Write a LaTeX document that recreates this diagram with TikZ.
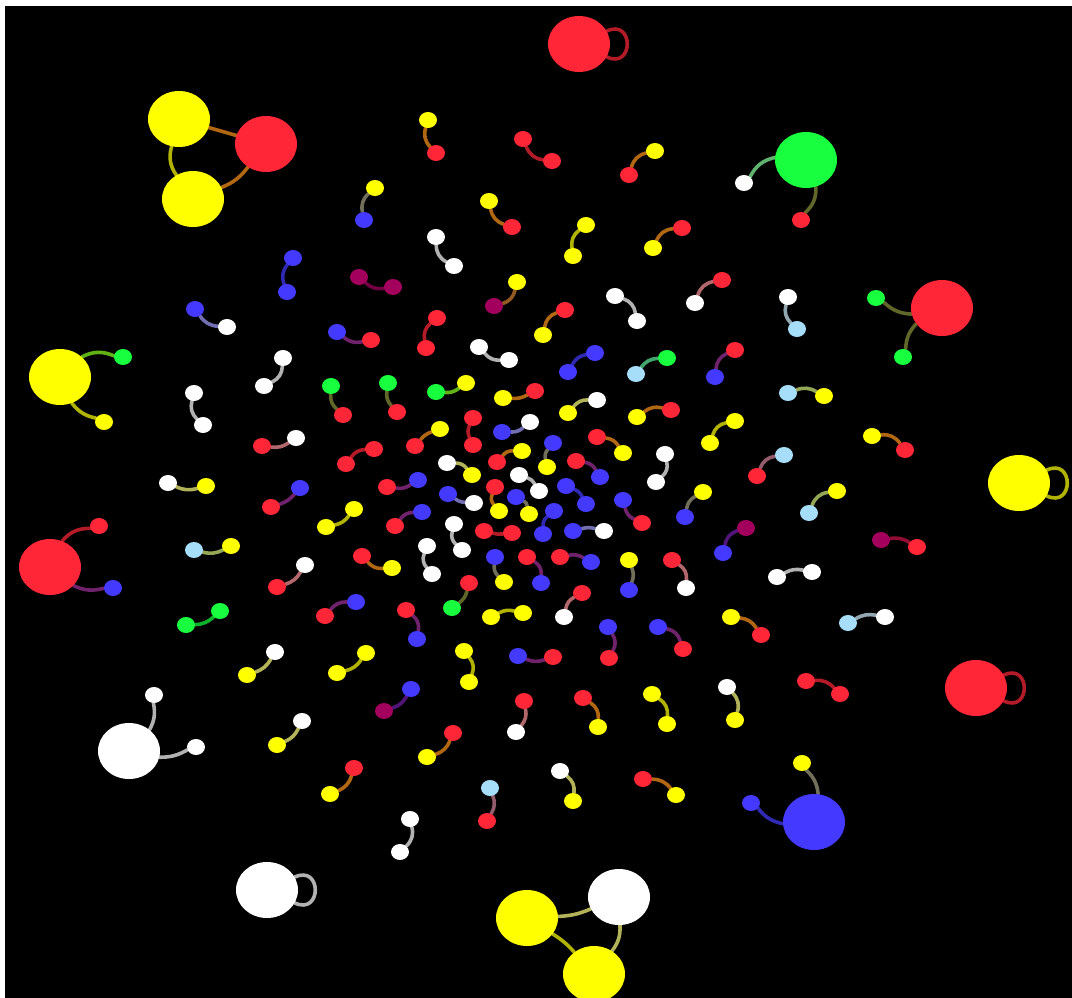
\documentclass[tikz,border=0pt]{standalone}
\usetikzlibrary{shapes.geometric}
\pgfdeclarelayer{bg}
\pgfsetlayers{bg,main}
\definecolor{cR}{RGB}{255,38,55}
\definecolor{cY}{RGB}{255,255,0}
\definecolor{cB}{RGB}{68,58,255}
\definecolor{cG}{RGB}{23,255,62}
\definecolor{cW}{RGB}{255,255,255}
\definecolor{cL}{RGB}{166,222,250}
\definecolor{cM}{RGB}{163,0,94}
\tikzset{
  sm/.style={ellipse,inner sep=0pt,minimum width=18pt,minimum height=16pt},
  big/.style={ellipse,inner sep=0pt,minimum width=62pt,minimum height=56pt},
  ed/.style={line width=3.6pt,line cap=round},
  selfloop/.style={ed,out=25,in=-25,looseness=3}
}
\newcommand\PP[6]{%
  \node[sm,fill=c#2] (#1a) at (#3) {};
  \node[sm,fill=c#4] (#1b) at (#5) {};
  \begin{pgfonlayer}{bg}
  \draw[ed,draw={c#2!50!c#4!70!black}] (#1a) to[bend left=#6] (#1b);
  \end{pgfonlayer}}
\newcommand\EE[4]{%
  \begin{pgfonlayer}{bg}
  \draw[ed,draw={c#2!50!c#3!70!black}] #1 to[bend left=#4] #1;
  \end{pgfonlayer}}
\begin{document}
\begin{tikzpicture}[x=1pt,y=-1pt]
\useasboundingbox (0,0) rectangle (1072,998);
\begin{pgfonlayer}{bg}
\fill[white] (0,0) rectangle (1072,998);
\fill[black] (5,6) rectangle (1072,998);
\end{pgfonlayer}
% ---- big nodes
\node[big,fill=cR] (r1) at (579,44) {};
\node[big,fill=cY] (y1) at (179,119) {};
\node[big,fill=cR] (r2) at (266,144) {};
\node[big,fill=cY] (y2) at (193,199) {};
\node[big,fill=cG] (g1) at (806,160) {};
\node[sm,fill=cW] (g1w) at (744,183) {};
\node[sm,fill=cR] (g1r) at (801,220) {};
\node[big,fill=cR] (r3) at (942,308) {};
\node[sm,fill=cG] (r3g) at (876,298) {};
\node[sm,fill=cG] (r3h) at (903,357) {};
\node[big,fill=cY] (y3) at (60,377) {};
\node[sm,fill=cG] (y3g) at (123,357) {};
\node[sm,fill=cY] (y3y) at (104,422) {};
\node[big,fill=cY] (y4) at (1019,483) {};
\node[big,fill=cR] (r4) at (50,567) {};
\node[sm,fill=cR] (r4r) at (99,526) {};
\node[sm,fill=cB] (r4b) at (113,588) {};
\node[big,fill=cR] (r5) at (976,688) {};
\node[big,fill=cW] (w1) at (129,751) {};
\node[sm,fill=cW] (w1a) at (154,695) {};
\node[sm,fill=cW] (w1b) at (196,747) {};
\node[big,fill=cB] (b1) at (814,822) {};
\node[sm,fill=cY] (b1y) at (802,763) {};
\node[sm,fill=cB] (b1b) at (751,803) {};
\node[big,fill=cW] (w2) at (267,890) {};
\node[big,fill=cY] (y5) at (527,918) {};
\node[big,fill=cW] (w3) at (619,897) {};
\node[big,fill=cY] (y6) at (594,974) {};
\begin{pgfonlayer}{bg}
\draw[ed,draw={cR!70!black}] (r1) to[selfloop] (r1);
\draw[ed,draw={cY!70!black}] (y4) to[selfloop] (y4);
\draw[ed,draw={cR!70!black}] (r5) to[selfloop] (r5);
\draw[ed,draw={cW!70!black}] (w2) to[selfloop] (w2);
\draw[ed,draw={cY!50!cY!70!black}] (y1) to[bend left=-25] (y2);
\draw[ed,draw={cY!50!cR!70!black}] (y1) to[bend left=0] (r2);
\draw[ed,draw={cR!50!cY!70!black}] (r2) to[bend left=15] (y2);
\draw[ed,draw={cG!50!cW!70!black}] (g1) to[bend left=-25] (g1w);
\draw[ed,draw={cG!50!cR!70!black}] (g1) to[bend left=25] (g1r);
\draw[ed,draw={cR!50!cG!70!black}] (r3) to[bend left=20] (r3g);
\draw[ed,draw={cR!50!cG!70!black}] (r3) to[bend left=-20] (r3h);
\draw[ed,draw={cY!50!cG!70!black}] (y3) to[bend left=25] (y3g);
\draw[ed,draw={cY!70!black}] (y3) to[bend left=-20] (y3y);
\draw[ed,draw={cR!70!black}] (r4) to[bend left=25] (r4r);
\draw[ed,draw={cR!50!cB!70!black}] (r4) to[bend left=-20] (r4b);
\draw[ed,draw={cW!70!black}] (w1) to[bend left=-20] (w1a);
\draw[ed,draw={cW!70!black}] (w1) to[bend left=-15] (w1b);
\draw[ed,draw={cY!50!cB!70!black}] (b1y) to[bend left=20] (b1);
\draw[ed,draw={cB!70!black}] (b1b) to[bend left=-20] (b1);
\draw[ed,draw={cY!50!cW!70!black}] (y5) to[bend left=-10] (w3);
\draw[ed,draw={cW!50!cY!70!black}] (w3) to[bend left=20] (y6);
\draw[ed,draw={cY!70!black}] (y5) to[bend left=8] (y6);
\end{pgfonlayer}
% ---- small pairs
\PP{p2}{Y}{375,188}{B}{364,220}{-30}
\PP{p3}{W}{436,237}{W}{454,266}{-30}
\PP{p4}{B}{293,258}{B}{287,292}{-30}
\PP{p5}{M}{359,277}{M}{393,287}{-25}
\PP{p6}{B}{195,309}{W}{227,327}{-25}
\PP{p7}{B}{337,332}{R}{371,340}{-25}
\PP{p8}{R}{437,318}{R}{426,348}{-30}
\PP{p9}{W}{283,358}{W}{264,386}{30}
\PP{p10}{W}{194,393}{W}{203,425}{-30}
\PP{p11}{G}{331,386}{R}{343,415}{-25}
\PP{p12}{G}{388,383}{R}{397,412}{-25}
\PP{p13}{G}{436,392}{Y}{466,383}{-20}
\PP{p14}{R}{262,446}{W}{296,438}{-20}
\PP{p15}{R}{346,464}{R}{374,449}{25}
\PP{p16}{R}{415,446}{Y}{440,429}{15}
\PP{p17}{Y}{428,120}{R}{436,153}{-30}
\PP{p18}{R}{523,139}{R}{552,161}{-30}
\PP{p19}{R}{629,175}{Y}{655,151}{30}
\PP{p20}{Y}{489,201}{R}{512,227}{-30}
\PP{p21}{Y}{586,225}{Y}{573,256}{-30}
\PP{p22}{Y}{653,248}{R}{682,228}{30}
\PP{p23}{M}{494,306}{Y}{517,282}{-30}
\PP{p24}{W}{615,296}{W}{637,321}{30}
\PP{p25}{W}{695,303}{R}{722,280}{30}
\PP{p26}{Y}{543,335}{R}{565,310}{30}
\PP{p27}{W}{479,347}{W}{509,360}{-25}
\PP{p28}{B}{568,372}{B}{595,353}{25}
\PP{p29}{L}{636,374}{G}{667,358}{25}
\PP{p30}{B}{715,377}{R}{735,350}{30}
\PP{p31}{Y}{503,398}{R}{535,391}{-15}
\PP{p32}{Y}{568,413}{W}{597,400}{25}
\PP{p33}{Y}{637,417}{R}{671,410}{25}
\PP{p34}{R}{473,418}{R}{473,445}{-25}
\PP{p35}{B}{502,432}{W}{530,422}{-20}
\PP{p36}{Y}{710,443}{Y}{735,421}{30}
\PP{p40}{W}{788,297}{L}{797,329}{-30}
\PP{p41}{L}{788,393}{Y}{824,396}{25}
\PP{p42}{Y}{872,436}{R}{905,450}{30}
\PP{p45}{W}{168,483}{Y}{206,486}{-20}
\PP{p46}{R}{271,507}{B}{300,488}{-15}
\PP{p47}{Y}{326,527}{Y}{354,509}{-20}
\PP{p48}{R}{387,487}{B}{418,480}{-20}
\PP{p49}{R}{395,526}{B}{422,512}{25}
\PP{p51}{L}{194,550}{Y}{231,546}{-20}
\PP{p52}{R}{277,587}{W}{305,565}{-20}
\PP{p53}{R}{362,556}{Y}{392,568}{-25}
\PP{p54}{W}{427,546}{W}{432,574}{-30}
\PP{p55}{G}{186,625}{G}{220,611}{-20}
\PP{p56}{R}{325,616}{B}{356,602}{25}
\PP{p57}{R}{406,610}{B}{417,639}{30}
\PP{p58}{Y}{247,675}{W}{275,652}{-20}
\PP{p59}{Y}{337,673}{Y}{366,653}{-20}
\PP{p60}{M}{384,711}{B}{411,689}{-20}
\PP{p62}{Y}{277,745}{W}{302,721}{-20}
\PP{p63}{Y}{330,794}{R}{354,768}{-25}
\PP{p64}{W}{410,819}{W}{400,852}{30}
\PP{p65}{R}{453,733}{Y}{427,757}{25}
\PP{p67}{Y}{522,451}{R}{497,462}{-25}
\PP{p68}{W}{447,463}{Y}{472,475}{25}
\PP{p69}{B}{553,443}{Y}{547,467}{-25}
\PP{p70}{R}{576,461}{B}{600,477}{25}
\PP{p71}{R}{597,437}{Y}{623,453}{25}
\PP{p72}{W}{665,454}{W}{656,482}{30}
\PP{p74}{W}{519,475}{W}{539,491}{20}
\PP{p75}{R}{495,487}{Y}{499,511}{-30}
\PP{p76}{B}{448,494}{W}{474,503}{-15}
\PP{p77}{B}{516,497}{Y}{529,514}{25}
\PP{p78}{B}{566,486}{B}{586,504}{20}
\PP{p79}{B}{623,500}{R}{642,523}{-25}
\PP{p80}{Y}{703,492}{B}{685,517}{-25}
\PP{p81}{W}{454,524}{W}{462,550}{-30}
\PP{p82}{R}{484,531}{R}{512,533}{-10}
\PP{p83}{B}{554,511}{B}{543,534}{-25}
\PP{p84}{B}{573,531}{W}{604,531}{15}
\PP{p85}{B}{495,557}{Y}{504,582}{-25}
\PP{p86}{R}{527,557}{B}{541,583}{30}
\PP{p87}{R}{560,557}{B}{591,562}{20}
\PP{p88}{Y}{629,560}{B}{629,590}{20}
\PP{p89}{R}{672,560}{W}{686,588}{30}
\PP{p90}{B}{723,553}{M}{746,528}{30}
\PP{p91}{R}{469,583}{G}{452,608}{20}
\PP{p92}{Y}{491,617}{Y}{523,613}{20}
\PP{p93}{R}{582,593}{W}{564,617}{-25}
\PP{p94}{B}{608,627}{R}{609,658}{30}
\PP{p95}{B}{658,627}{R}{683,649}{30}
\PP{p96}{Y}{464,651}{Y}{469,682}{30}
\PP{p97}{B}{518,656}{R}{553,657}{-20}
\PP{p98}{R}{524,701}{W}{516,732}{25}
\PP{p99}{R}{583,698}{Y}{598,727}{30}
\PP{p100}{Y}{652,694}{Y}{667,724}{30}
\PP{p101}{W}{727,687}{Y}{735,720}{30}
\PP{p103}{W}{560,771}{Y}{573,801}{30}
\PP{p104}{L}{490,788}{R}{487,821}{25}
\PP{p105}{R}{643,779}{Y}{676,795}{25}
\PP{p106}{L}{784,455}{R}{757,476}{-30}
\PP{p107}{Y}{837,491}{L}{809,513}{-30}
\PP{p109}{M}{881,540}{R}{917,547}{20}
\PP{p110}{W}{777,577}{W}{812,572}{20}
\PP{p111}{Y}{731,617}{R}{761,635}{25}
\PP{p112}{L}{848,623}{W}{885,617}{20}
\PP{p115}{R}{806,681}{R}{840,694}{25}
\end{tikzpicture}
\end{document}
